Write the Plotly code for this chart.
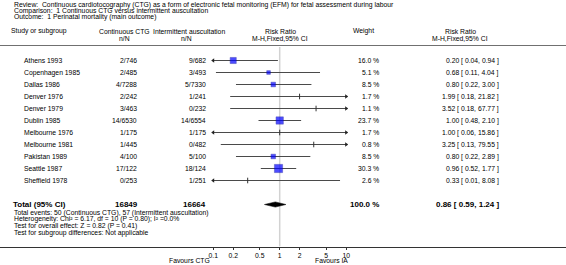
import numpy as np
import plotly.graph_objects as go

# ---------------- data ----------------
title_lines = [
    "Review:  Continuous cardiotocography (CTG) as a form of electronic fetal monitoring (EFM) for fetal assessment during labour",
    "Comparison:  1 Continuous CTG versus intermittent auscultation",
    "Outcome:  1 Perinatal mortality (main outcome)",
]
studies = ["Athens 1993", "Copenhagen 1985", "Dallas 1986", "Denver 1976", "Denver 1979",
           "Dublin 1985", "Melbourne 1976", "Melbourne 1981", "Pakistan 1989", "Seattle 1987",
           "Sheffield 1978"]
ctg_nN = ["2/746", "2/485", "4/7288", "2/242", "3/463", "14/6530", "1/175", "1/445",
          "4/100", "17/122", "0/253"]
ia_nN = ["9/682", "3/493", "5/7330", "1/241", "0/232", "14/6554", "1/175", "0/482",
         "5/100", "18/124", "1/251"]
weights = [16.0, 5.1, 8.5, 1.7, 1.1, 23.7, 1.7, 0.8, 8.5, 30.3, 2.6]
rr = [0.20, 0.68, 0.80, 1.99, 3.52, 1.00, 1.00, 3.25, 0.80, 0.96, 0.33]
rr_lo = [0.04, 0.11, 0.22, 0.18, 0.18, 0.48, 0.06, 0.13, 0.22, 0.52, 0.01]
rr_hi = [0.94, 4.04, 3.00, 21.82, 67.77, 2.10, 15.86, 79.55, 2.89, 1.77, 8.08]

total_ctg = "16849"
total_ia = "16664"
total_weight = "100.0 %"
total_rr, total_lo, total_hi = 0.86, 0.59, 1.24
footer_lines = [
    "Total events: 50 (Continuous CTG), 57 (Intermittent auscultation)",
    "Heterogeneity: Chi² = 6.17, df = 10 (P = 0.80); I² =0.0%",
    "Test for overall effect: Z = 0.82 (P = 0.41)",
    "Test for subgroup differences: Not applicable",
]
tick_vals = [0.1, 0.2, 0.5, 1, 2, 5, 10]
tick_text = ["0.1", "0.2", "0.5", "1", "2", "5", "10"]
favours_left = "Favours CTG"
favours_right = "Favours IA"

# ---------------- layout constants ----------------
W, H = 566, 265
FONT = "Liberation Sans, Arial, sans-serif"
FS = 6.8
FSB = 8
CLIP_LO, CLIP_HI = 0.1, 10
PX_ONE, PX_DEC = 279.7, 66.5          # pixel of RR=1, pixels per decade
AXIS_Y = 246.5
ROW0, ROW_STEP = 60.5, 12
TOTAL_Y = 204.5

def row_y(i):
    return ROW0 + i * ROW_STEP

def px(x):
    return x / W

def py(y):
    return 1 - y / H

fig = go.Figure()

# reference line at RR = 1
fig.add_trace(go.Scatter(x=[1, 1], y=[47, AXIS_Y], mode="lines",
                         line=dict(color="#d2d2d2", width=1.5), hoverinfo="skip"))

# CI lines
xs, ys = [], []
for i in range(len(studies)):
    a = min(max(rr_lo[i], CLIP_LO), CLIP_HI)
    b = min(max(rr_hi[i], CLIP_LO), CLIP_HI)
    xs += [a, b, None]
    ys += [row_y(i), row_y(i), None]
fig.add_trace(go.Scatter(x=xs, y=ys, mode="lines",
                         line=dict(color="#4a4a4a", width=1), hoverinfo="skip"))

# arrows where CI leaves the range
la_x, la_y, ra_x, ra_y = [], [], [], []
for i in range(len(studies)):
    if rr_lo[i] < CLIP_LO:
        la_x.append(CLIP_LO); la_y.append(row_y(i))
    if rr_hi[i] > CLIP_HI:
        ra_x.append(CLIP_HI); ra_y.append(row_y(i))
fig.add_trace(go.Scatter(x=la_x, y=la_y, mode="markers",
                         marker=dict(symbol="triangle-left", size=4, color="#222"), hoverinfo="skip"))
fig.add_trace(go.Scatter(x=ra_x, y=ra_y, mode="markers",
                         marker=dict(symbol="triangle-right", size=4, color="#222"), hoverinfo="skip"))

# squares (weight-sized) and tick marks for tiny weights
sq_x, sq_y, sq_s, tk_x, tk_y = [], [], [], [], []
for i in range(len(studies)):
    if weights[i] >= 3:
        sq_x.append(rr[i]); sq_y.append(row_y(i)); sq_s.append(1.4 * np.sqrt(weights[i]) + 0.5)
    else:
        tk_x.append(rr[i]); tk_y.append(row_y(i))
fig.add_trace(go.Scatter(x=sq_x, y=sq_y, mode="markers",
                         marker=dict(symbol="square", size=sq_s, color="#0000ff",
                                     line=dict(width=0.5, color="#00009a")), hoverinfo="skip"))
fig.add_trace(go.Scatter(x=tk_x, y=tk_y, mode="markers",
                         marker=dict(symbol="line-ns", size=4,
                                     line=dict(width=1, color="#333")), hoverinfo="skip"))

# diamond for the pooled estimate
dh = 2.6
fig.add_trace(go.Scatter(x=[total_lo, total_rr, total_hi, total_rr, total_lo],
                         y=[TOTAL_Y, TOTAL_Y - dh, TOTAL_Y, TOTAL_Y + dh, TOTAL_Y],
                         mode="lines", fill="toself", fillcolor="black",
                         line=dict(color="black", width=0.5), hoverinfo="skip"))

ann = []

def txt(x, y, s, anchor="left", size=FS, bold=False):
    ann.append(dict(x=px(x), y=py(y), xref="paper", yref="paper", text=f"<b>{s}</b>" if bold else s,
                    showarrow=False, xanchor=anchor, yanchor="middle",
                    font=dict(family=FONT, size=size, color="black"), borderpad=0))

# title block
for k, line in enumerate(title_lines):
    txt(13, 5 + k * 6, line)

# headers
txt(10, 31.5, "Study or subgroup")
txt(124, 31.5, "Continuous CTG", "center")
txt(125, 38.5, "n/N", "center")
txt(189, 31.5, "Intermittent auscultation", "center")
txt(186, 38.5, "n/N", "center")
txt(280, 31.5, "Risk Ratio", "center")
txt(280, 38.5, "M-H,Fixed,95% CI", "center")
txt(363, 31.5, "Weight", "center")
txt(460, 31.5, "Risk Ratio", "center")
txt(460, 38.5, "M-H,Fixed,95% CI", "center")

# study rows
for i in range(len(studies)):
    y = row_y(i)
    txt(23, y, studies[i])
    txt(138, y, ctg_nN[i], "right")
    txt(207, y, ia_nN[i], "right")
    txt(380, y, f"{weights[i]:.1f} %", "right")
    txt(500, y, f"{rr[i]:.2f} [ {rr_lo[i]:.2f}, {rr_hi[i]:.2f} ]", "right")

# total row
txt(12, TOTAL_Y, "Total (95% CI)", bold=True, size=FSB)
txt(139, TOTAL_Y, total_ctg, "right", bold=True, size=FSB)
txt(207, TOTAL_Y, total_ia, "right", bold=True, size=FSB)
txt(380, TOTAL_Y, total_weight, "right", bold=True, size=FSB)
txt(500, TOTAL_Y, f"{total_rr:.2f} [ {total_lo:.2f}, {total_hi:.2f} ]", "right", bold=True, size=FSB)

for k, line in enumerate(footer_lines):
    txt(13, 212.5 + k * 6.8, line)

txt(189, 260.5, favours_left, "center")
txt(331, 260.5, favours_right, "center")

# log axis so that 1 sits at PX_ONE and one decade spans PX_DEC pixels
x_range = [(0 - PX_ONE) / PX_DEC, (W - PX_ONE) / PX_DEC]

fig.update_layout(
    width=W, height=H, margin=dict(l=0, r=0, t=0, b=0),
    paper_bgcolor="white", plot_bgcolor="white", showlegend=False,
    annotations=ann,
    shapes=[dict(type="line", xref="paper", yref="y", x0=0, x1=1, y0=45.5, y1=45.5,
                 line=dict(color="#707070", width=1))],
    xaxis=dict(type="log", range=x_range, domain=[0, 1], tickvals=tick_vals, ticktext=tick_text,
               showgrid=False, zeroline=False, showline=True, linecolor="#333", linewidth=1,
               ticks="outside", ticklen=2, tickcolor="#333",
               tickfont=dict(family=FONT, size=FS, color="black"), fixedrange=True),
    yaxis=dict(range=[AXIS_Y, 0], domain=[(H - AXIS_Y) / H, 1], visible=False, fixedrange=True),
)

fig.write_html("out.html", config={"displayModeBar": False},
               post_script="document.body.style.margin='0';document.body.style.overflow='hidden';")
